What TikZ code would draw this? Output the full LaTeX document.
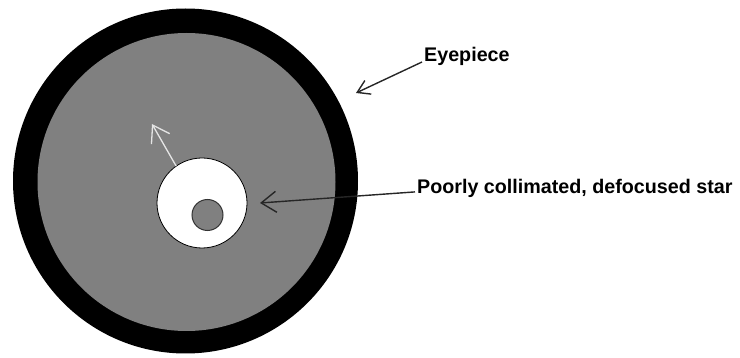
\documentclass[tikz,border=0pt]{standalone}
\usepackage{fontspec}
\setmainfont{Liberation Sans}
\usetikzlibrary{arrows.meta}

\tikzset{
  disc/.style={circle,inner sep=0pt,outer sep=0pt},
  lbltext/.style={anchor=base west,inner sep=2pt,font=\bfseries\fontsize{19.7}{22}\selectfont},
  pointer/.style={black!85,line width=1.4pt,-{Straight Barb[length=15pt,width=21pt]}},
}

\begin{document}
\begin{tikzpicture}[x=1pt,y=-1pt]
\useasboundingbox (0,0) rectangle (740,358);
% eyepiece and field of view
\node[disc,fill=black,minimum size=345pt] (eyepiece) at (185.5,181) {};
\node[disc,fill=gray,minimum size=298pt] (field) at (186.5,182) {};
% defocused star
\node[disc,draw=black,fill=white,line width=0.8pt,minimum size=90pt] (halo) at (202,203) {};
\node[disc,draw=black!80,fill=gray,line width=1pt,minimum size=31pt] (shadow) at (207.5,215) {};
% labels
\node[lbltext] (eyelbl) at (422,62) {Eyepiece};
\node[lbltext] (starlbl) at (415,194) {Poorly collimated, defocused star};
\coordinate (eyetip) at (356,93);
\coordinate (startip) at (260,203);
\coordinate (drifttip) at (152,124);
\draw[pointer,-{Straight Barb[length=12pt,width=15pt]}] (eyelbl.base west) -- (eyetip);
\draw[pointer] ([yshift=-3pt]starlbl.west) -- (startip);
\draw[pointer,black!10,line width=1.3pt,-{Straight Barb[length=16pt,width=21pt]}] (halo.125) -- (drifttip);
\end{tikzpicture}
\end{document}
